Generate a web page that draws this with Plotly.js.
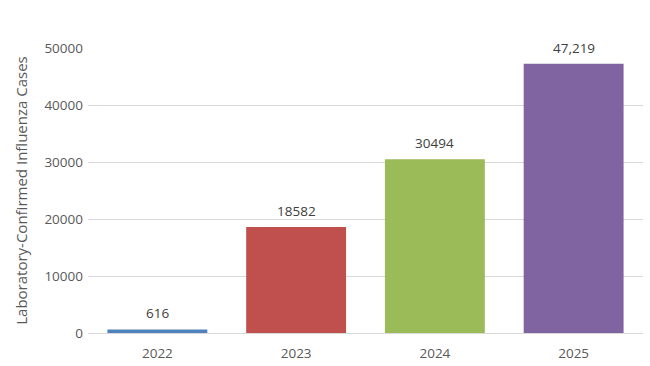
<!DOCTYPE html>
<html><head><meta charset="utf-8">
<script src="https://cdn.plot.ly/plotly-3.0.1.min.js"></script>
<style>body{margin:0;padding:0;background:#fff}#c{width:650px;height:366px}</style>
</head><body><div id="c"></div>
<script>
const years = ['2022','2023','2024','2025'];
const cases = [616, 18582, 30494, 47219];
const labels = ['616','18582','30494','47,219'];
const colors = ['#4F81BD','#C0504D','#9BBB59','#8064A2'];
const yTicks = [0,10000,20000,30000,40000,50000];

const ann = years.map((y,i)=>({x:i, y:cases[i], text:labels[i], showarrow:false, yanchor:'bottom', yshift:5,
  font:{family:'Open Sans, sans-serif', size:13.5, color:'#404040'}}));

Plotly.newPlot('c', [{
  type:'bar', x: years, y: cases, marker:{color: colors},
  hoverinfo:'none', width:0.72
}], {
  width:650, height:366,
  margin:{l:88, r:7, t:48, b:33},
  paper_bgcolor:'#fff', plot_bgcolor:'#fff',
  showlegend:false,
  annotations: ann,
  font:{family:'Open Sans, sans-serif', color:'#595959', size:13.5},
  xaxis:{type:'category', range:[-0.5,3.5], showgrid:false, showline:true, linecolor:'#d9d9d9', linewidth:1, ticks:'', ticklabelstandoff:8, tickfont:{size:13.5, color:'#595959'}},
  yaxis:{range:[0,50000], tickvals:yTicks, ticktext:yTicks.map(String), showgrid:true, gridcolor:'#d9d9d9', zeroline:false, showline:false, ticks:'', ticklen:0, ticklabelstandoff:4, tickfont:{size:13.5,color:'#595959'},
    title:{text:'Laboratory-Confirmed Influenza Cases', font:{size:15, color:'#595959'}, standoff:13}}
}, {displayModeBar:false, staticPlot:true});
</script></body></html>
